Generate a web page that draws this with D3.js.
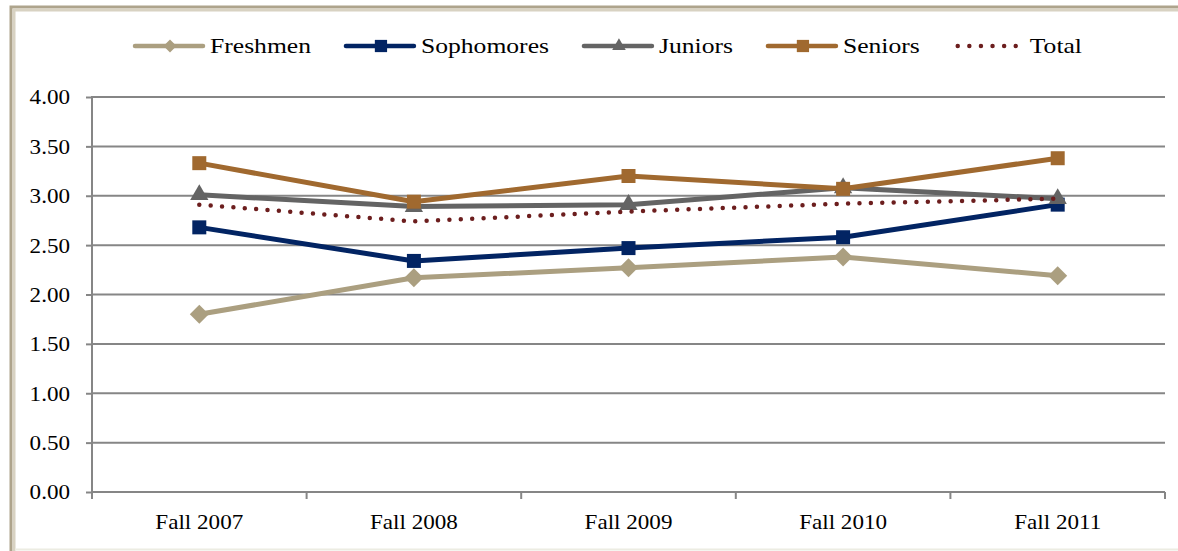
<!DOCTYPE html>
<html>
<head>
<meta charset="utf-8">
<script src="https://cdn.jsdelivr.net/npm/d3@7"></script>
<style>
  body { margin: 0; background: #fff; }
  text { font-family: "Liberation Serif", "Times New Roman", serif; fill: #000; }
</style>
</head>
<body>
<svg id="vis" width="1178" height="551"></svg>
<script>
// data
var categories = ["Fall 2007", "Fall 2008", "Fall 2009", "Fall 2010", "Fall 2011"];
var freshmen   = [1.80, 2.17, 2.27, 2.38, 2.19];
var sophomores = [2.68, 2.34, 2.47, 2.58, 2.91];
var juniors    = [3.01, 2.89, 2.91, 3.08, 2.97];
var seniors    = [3.33, 2.94, 3.20, 3.07, 3.38];
var total      = [2.91, 2.74, 2.84, 2.92, 2.97];
var yTicks     = [0, 0.5, 1, 1.5, 2, 2.5, 3, 3.5, 4];

var series = [
    {name: "Freshmen",   values: freshmen,   color: "#ab9f80", marker: "diamond"},
    {name: "Sophomores", values: sophomores, color: "#022463", marker: "square"},
    {name: "Juniors",    values: juniors,    color: "#646464", marker: "triangle"},
    {name: "Seniors",    values: seniors,    color: "#a0692f", marker: "square"},
    {name: "Total",      values: total,      color: "#6c1e1e", marker: "dots"}
];

// layout
var plotLeft = 92, plotRight = 1165, plotTop = 97, plotBottom = 492;
var axisColor = "#868686";

var svg = d3.select("#vis");

// outer frame
svg.append("path").attr("d", "M11,551 V7 H1178").attr("fill", "none")
    .attr("stroke", "#aea48c").attr("stroke-width", 3);
svg.append("path").attr("d", "M14,551 V10 H1178").attr("fill", "none")
    .attr("stroke", "#d8d2c2").attr("stroke-width", 3);
svg.append("line").attr("x1", 15).attr("x2", 1178).attr("y1", 549.5).attr("y2", 549.5)
    .attr("stroke", "#ecece2").attr("stroke-width", 2);

var x = d3.scaleBand().domain(categories).range([plotLeft, plotRight]);
var y = d3.scaleLinear().domain([0, 4]).range([plotBottom, plotTop]);
var cx = function (i) { return x(categories[i]) + x.bandwidth() / 2; };

// gridlines
svg.append("g").selectAll("line")
    .data(yTicks)
    .enter().append("line")
    .attr("x1", plotLeft).attr("x2", plotRight)
    .attr("y1", function (d) { return y(d); })
    .attr("y2", function (d) { return y(d); })
    .attr("stroke", axisColor)
    .attr("stroke-width", 2);

// y axis
var yAxis = svg.append("g")
    .attr("transform", "translate(" + plotLeft + ",0)")
    .call(d3.axisLeft(y).tickValues(yTicks).tickFormat(d3.format(".2f")).tickSize(6).tickSizeOuter(0));
yAxis.select(".domain").remove();
yAxis.selectAll(".tick line").attr("stroke", axisColor).attr("stroke-width", 2);
yAxis.selectAll(".tick text")
    .attr("x", -20).attr("dy", "0.33em")
    .style("font-size", "21px")
    .attr("transform", "scale(1.1,1)");
svg.append("line")
    .attr("x1", plotLeft).attr("x2", plotLeft).attr("y1", plotTop - 1).attr("y2", plotBottom + 7)
    .attr("stroke", axisColor).attr("stroke-width", 2);

// x axis
var xAxis = svg.append("g")
    .attr("transform", "translate(0," + plotBottom + ")")
    .call(d3.axisBottom(x).tickSize(0));
xAxis.select(".domain").remove();
xAxis.selectAll(".tick text")
    .attr("y", 37).attr("dy", 0)
    .style("font-size", "21px")
    .attr("transform", "scale(1.1,1)");
svg.append("g").selectAll("line")
    .data(categories.map(function (c) { return x(c); }).concat([plotRight]))
    .enter().append("line")
    .attr("x1", function (d) { return d; }).attr("x2", function (d) { return d; })
    .attr("y1", plotBottom).attr("y2", plotBottom + 7)
    .attr("stroke", axisColor).attr("stroke-width", 2);

// markers
function symbolPath(marker, big) {
    if (marker === "square") return d3.symbol(d3.symbolSquare, big ? 196 : 150)();
    if (marker === "diamond") return d3.symbol(d3.symbolSquare, big ? 180 : 85)();
    if (marker === "triangle") return d3.symbol(d3.symbolTriangle, big ? 145 : 80)();
    return null;
}
function drawMarker(g, s, px, py, big) {
    if (s.marker === "dots") return;
    g.append("path")
        .attr("d", symbolPath(s.marker, big))
        .attr("transform", "translate(" + px + "," + py + ")" + (s.marker === "diamond" ? " rotate(45)" : ""))
        .attr("fill", s.color);
}

var line = d3.line()
    .x(function (d, i) { return cx(i); })
    .y(function (d) { return y(d); });

series.forEach(function (s) {
    var g = svg.append("g");
    var p = g.append("path")
        .datum(s.values)
        .attr("fill", "none")
        .attr("stroke", s.color)
        .attr("d", line);
    if (s.marker === "dots") {
        p.attr("stroke-width", 4.5).attr("stroke-linecap", "round").attr("stroke-dasharray", "0 11.4");
    } else {
        p.attr("stroke-width", 5).attr("stroke-linejoin", "round");
    }
    s.values.forEach(function (v, i) { drawMarker(g, s, cx(i), y(v), true); });
});

// legend
var legend = svg.append("g");
var lx = 135, ly = 46;
series.forEach(function (s) {
    var g = legend.append("g");
    var l = g.append("line")
        .attr("x1", lx).attr("x2", lx + 68)
        .attr("y1", ly).attr("y2", ly)
        .attr("stroke", s.color);
    if (s.marker === "dots") {
        l.attr("stroke-width", 4.5).attr("stroke-linecap", "round").attr("stroke-dasharray", "0 11.6")
            .attr("x1", lx + 3).attr("x2", lx + 62);
    } else {
        l.attr("stroke-width", 4.5).attr("stroke-linecap", "round");
    }
    drawMarker(g, s, lx + 35, ly, false);
    var t = g.append("g").attr("transform", "translate(" + (lx + 75) + "," + (ly + 7) + ") scale(1.22,1)")
        .append("text")
        .style("font-size", "21px")
        .text(s.name);
    var w = t.node().getComputedTextLength() * 1.22;
    lx = lx + 75 + w + 35;
});
</script>
</body>
</html>
